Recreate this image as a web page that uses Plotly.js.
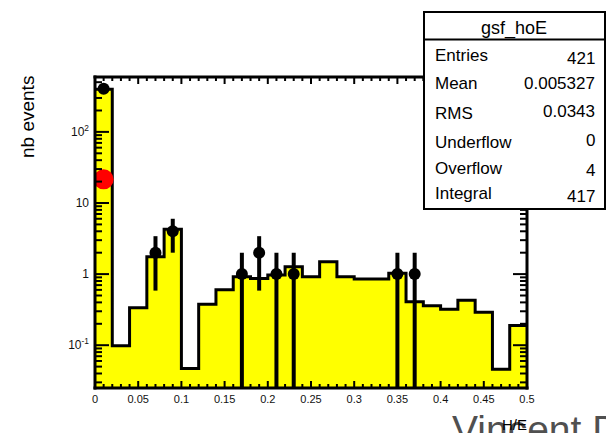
<!DOCTYPE html>
<html>
<head>
<meta charset="utf-8">
<script src="https://cdn.plot.ly/plotly-3.0.1.min.js"></script>
<style>
  html, body { margin: 0; padding: 0; background: #ffffff; }
  #chart { width: 606px; height: 433px; }
</style>
</head>
<body>
<div id="chart"></div>
<script>
// Lower edges of the 25 H/E bins (bin width 0.02), upper limit of the last bin
const binLow = [0, 0.02, 0.04, 0.06, 0.08, 0.10, 0.12, 0.14, 0.16, 0.18,
                0.20, 0.22, 0.24, 0.26, 0.28, 0.30, 0.32, 0.34, 0.36, 0.38,
                0.40, 0.42, 0.44, 0.46, 0.48];
const xMax = 0.5;

// Reference histogram contents (yellow, normalised to the data integral)
const refCounts = [398, 0.098, 0.337, 1.76, 4.27, 0.047, 0.376, 0.60, 0.92, 0.87,
                   0.97, 1.27, 0.92, 1.49, 0.92, 0.85, 0.85, 1.03, 0.41, 0.36,
                   0.32, 0.43, 0.29, 0.046, 0.19];

// Data entries (black points): bin centres and counts
const dataX = [0.01, 0.07, 0.09, 0.17, 0.19, 0.21, 0.23, 0.35, 0.37];
const dataN = [404, 2, 4, 1, 2, 1, 1, 1, 1];

// Highlighted value in the first bin
const markX = [0.01];
const markY = [21.5];

// Axis labels
const xTickVals = [0, 0.05, 0.1, 0.15, 0.2, 0.25, 0.3, 0.35, 0.4, 0.45, 0.5];
const xTickText = ["0", "0.05", "0.1", "0.15", "0.2", "0.25", "0.3", "0.35", "0.4", "0.45", "0.5"];
const yTickVals = [0.1, 1, 10, 100];
const yTickText = ["10<sup>-1</sup>", "1", "10", "10<sup>2</sup>"];

// Statistics box
const statTitle = "gsf_hoE";
const statNames = ["Entries", "Mean", "RMS", "Underflow", "Overflow", "Integral"];
const statValues = ["421", "0.005327", "0.0343", "0", "4", "417"];

// ---- page geometry (pixels) ----
const W = 606, H = 433;
const PL = 95, PR = 527, PT = 77, PB = 388;
const PW = PR - PL, PH = PB - PT;
const px = x => (x - PL) / PW;
const py = y => (PB - y) / PH;
const Y_RANGE = [-1.602, 2.772];
const yPaper = v => (Math.log10(v) - Y_RANGE[0]) / (Y_RANGE[1] - Y_RANGE[0]);

const FONT = "Liberation Sans, Arial, Helvetica, sans-serif";

// Step outline of the reference histogram
const histX = binLow.concat([xMax]);
const histY = refCounts.concat([refCounts[refCounts.length - 1]]);

// Minor tick positions: every 0.01 on x, 2..9 in every decade on y
const xMinor = [];
for (let i = 1; i < 50; i++) if (i % 5 !== 0) xMinor.push(i / 100);
const yMinor = [];
for (let d = -2; d <= 2; d++) {
  for (let k = 2; k <= 9; k++) {
    const v = k * Math.pow(10, d);
    if (Math.log10(v) > Y_RANGE[0] && Math.log10(v) < Y_RANGE[1]) yMinor.push(v);
  }
}

const traces = [
  {
    type: "scatter", mode: "lines",
    x: histX, y: histY,
    line: { shape: "hv", color: "#000000", width: 3 },
    fill: "tozeroy", fillcolor: "#ffff00",
    hoverinfo: "skip"
  },
  {
    type: "scatter", mode: "markers",
    x: dataX, y: dataN,
    marker: { color: "#000000", size: 12, symbol: "circle" },
    error_y: {
      type: "data", visible: true,
      array: dataN.map(n => Math.sqrt(n)),
      thickness: 4, width: 0, color: "#000000"
    }
  },
  {
    type: "scatter", mode: "markers",
    x: markX, y: markY,
    marker: { color: "#ff0000", size: 20, symbol: "circle" }
  }
];

const shapes = [];
const seg = (x0, y0, x1, y1, w) => shapes.push({
  type: "line", xref: "paper", yref: "paper",
  x0: x0, y0: y0, x1: x1, y1: y1,
  line: { color: "#000000", width: w }, layer: "above"
});

// plot frame, four sides with square corners
const ex = 1.5 / PW, ey = 1.5 / PH;
seg(-ex, 0, 1 + ex, 0, 3);
seg(-ex, 1, 1 + ex, 1, 3);
seg(0, -ey, 0, 1 + ey, 3);
seg(1, -ey, 1, 1 + ey, 3);

// inward tick marks on all four sides
const xTick = (v, len) => {
  const x = v / xMax, f = len / PH;
  seg(x, 0, x, f, 2);
  seg(x, 1, x, 1 - f, 2);
};
const yTick = (v, len) => {
  const y = yPaper(v), f = len / PW;
  seg(0, y, f, y, 2);
  seg(1, y, 1 - f, y, 2);
};
xTickVals.forEach(v => xTick(v, 7));
xMinor.forEach(v => xTick(v, 4));
yTickVals.forEach(v => yTick(v, 14));
yMinor.forEach(v => yTick(v, 7));

// statistics box
shapes.push({ type: "rect", xref: "paper", yref: "paper",
  x0: px(424), x1: px(605), y0: py(209), y1: py(12),
  fillcolor: "#ffffff", line: { color: "#000000", width: 2 }, layer: "above" });
seg(px(424), py(39.5), px(605), py(39.5), 2);

const nameY = [55, 83.3, 113.3, 142, 168.3, 193];
const valueY = [59, 83.3, 111, 140.8, 170, 196.7];

const annotations = [];
const ann = (text, x, y, opts) => Object.assign({
  text: text, x: px(x), y: py(y), xref: "paper", yref: "paper",
  showarrow: false, yanchor: "middle"
}, opts);

annotations.push(ann(statTitle, 514, 28.8,
  { xanchor: "center", font: { family: FONT, size: 18, color: "#000000" } }));
statNames.forEach((s, i) => annotations.push(ann(s, 433, nameY[i],
  { xanchor: "left", font: { family: FONT, size: 17, color: "#000000" } })));
statValues.forEach((s, i) => annotations.push(ann(s, 597, valueY[i],
  { xanchor: "right", font: { family: FONT, size: 17, color: "#000000" } })));

// y-axis title, top aligned
annotations.push(ann("nb events", 27, 117,
  { xanchor: "center", textangle: -90, font: { family: FONT, size: 19, color: "#000000" } }));
// author tag and x-axis title
annotations.push(ann("Vincent D", 450, 429,
  { xanchor: "left", font: { family: FONT, size: 39, color: "#505050" } }));
annotations.push(ann("H/E", 514.5, 424.5,
  { xanchor: "center", font: { family: FONT, size: 15, color: "#000000" } }));

const layout = {
  width: W, height: H,
  margin: { l: PL, r: W - PR, t: PT, b: H - PB },
  paper_bgcolor: "#ffffff", plot_bgcolor: "#ffffff",
  showlegend: false,
  font: { family: FONT, size: 11, color: "#000000" },
  xaxis: {
    range: [0, xMax], tickmode: "array", tickvals: xTickVals, ticktext: xTickText,
    ticks: "", showline: false, showgrid: false, zeroline: false,
    ticklabelstandoff: 3,
    tickfont: { family: FONT, size: 11, color: "#111111" }
  },
  yaxis: {
    type: "log", range: Y_RANGE,
    tickmode: "array", tickvals: yTickVals, ticktext: yTickText,
    ticks: "", showline: false, showgrid: false, zeroline: false,
    ticklabelstandoff: 5,
    tickfont: { family: FONT, size: 12, color: "#111111" }
  },
  shapes: shapes,
  annotations: annotations
};

Plotly.newPlot("chart", traces, layout, { staticPlot: true, displayModeBar: false });
</script>
</body>
</html>
